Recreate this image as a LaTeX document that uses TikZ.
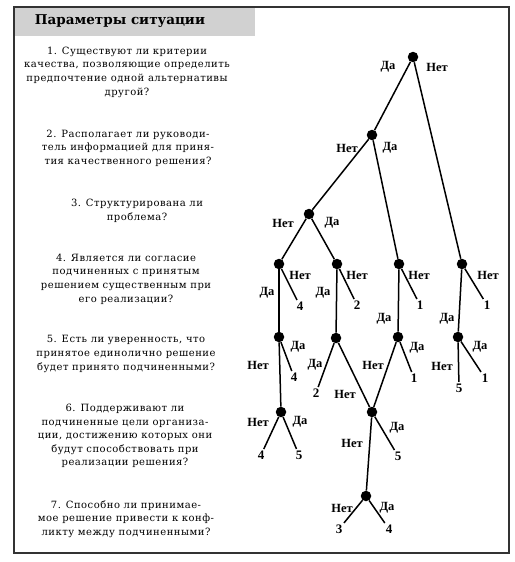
\documentclass[tikz,border=0pt]{standalone}
\usepackage{fontspec}
\setmainfont{DejaVu Serif}
\newfontfamily\labelfont{Liberation Serif}
\newfontfamily\askfont[LetterSpace=5]{DejaVu Serif}
\usetikzlibrary{positioning}
\tikzset{
    x=1pt,y=-1pt,
    decision/.style ={circle, fill, inner sep=0pt, minimum size=10.5pt},
    leaf/.style = {inner sep=1.5pt, font=\labelfont\bfseries\fontsize{13}{13}\selectfont},
    ans/.style = {inner sep=0pt, font=\labelfont\bfseries\fontsize{12.5}{13}\selectfont},
    question/.style = {align=center, inner sep=0pt, font=\askfont\fontsize{10}{13.6}\selectfont},
    branch/.style = {line width=1.5pt}
}

\begin{document}
\begin{tikzpicture}

    \useasboundingbox (0,0) rectangle (514,562);

    % frame and header
    \fill[black!18] (14,7) rectangle (255,36);
    \draw[line width=1.8pt, black!80] (14,7) rectangle (509,553);
    \node[font=\bfseries\fontsize{13.5}{13.5}\selectfont] (title) at (120,21) {Параметры ситуации};

    % questions
    \node[question] (q1) at (127,72) {1. Существуют ли критерии\\качества, позволяющие определить\\предпочтение одной альтернативы\\другой?};
    \node[question] (q2) at (128,148) {2. Располагает ли руководи-\\тель информацией для приня-\\тия качественного решения?};
    \node[question] (q3) at (137,211) {3. Структурирована ли\\проблема?};
    \node[question] (q4) at (126,279) {4. Является ли согласие\\подчиненных с принятым\\решением существенным при\\его реализации?};
    \node[question] (q5) at (126,354) {5. Есть ли уверенность, что\\принятое единолично решение\\будет принято подчиненными?};
    \node[question] (q6) at (125,436) {6. Поддерживают ли\\подчиненные цели организа-\\ции, достижению которых они\\будут способствовать при\\реализации решения?};
    \node[question] (q7) at (126,519) {7. Способно ли принимае-\\мое решение привести к конф-\\ликту между подчиненными?};

    % decision points
    \node[decision] (root) at (413,57) {};
    \node[decision] (a) at (372,135) {};
    \node[decision] (b) at (309,214) {};
    \node[decision] (c1) at (279,264) {};
    \node[decision] (c2) at (337,264) {};
    \node[decision] (c3) at (399,264) {};
    \node[decision] (c4) at (462,264) {};
    \node[decision] (d1) at (279,337) {};
    \node[decision] (d2) at (336,338) {};
    \node[decision] (d3) at (398,337) {};
    \node[decision] (d4) at (458,337) {};
    \node[decision] (e1) at (281,412) {};
    \node[decision] (e2) at (372,412) {};
    \node[decision] (f1) at (366,496) {};

    % outcomes
    \node[leaf] (o1) at (300,306) {4};
    \node[leaf] (o2) at (357,305) {2};
    \node[leaf] (o3) at (420,305) {1};
    \node[leaf] (o4) at (487,305) {1};
    \node[leaf] (o5) at (294,377) {4};
    \node[leaf] (o6) at (316,393) {2};
    \node[leaf] (o7) at (414,378) {1};
    \node[leaf] (o8) at (485,378) {1};
    \node[leaf] (o9) at (459,388) {5};
    \node[leaf] (o10) at (261,455) {4};
    \node[leaf] (o11) at (299,455) {5};
    \node[leaf] (o12) at (398,456) {5};
    \node[leaf] (o13) at (339,529) {3};
    \node[leaf] (o14) at (389,529) {4};

    % branches
    \draw[branch] (root) -- (a);
    \draw[branch] (root) -- (c4);
    \draw[branch] (a) -- (b);
    \draw[branch] (a) -- (c3);
    \draw[branch] (b) -- (c1);
    \draw[branch] (b) -- (c2);
    \draw[branch] (c1) -- (o1);
    \draw[branch] (c2) -- (o2);
    \draw[branch] (c3) -- (o3);
    \draw[branch] (c4) -- (o4);
    \draw[branch] (c1) -- (d1);
    \draw[branch] (c2) -- (d2);
    \draw[branch] (c3) -- (d3);
    \draw[branch] (c4) -- (d4);
    \draw[branch] (d1) -- (o5);
    \draw[branch] (d1) -- (e1);
    \draw[branch] (d2) -- (o6);
    \draw[branch] (d2) -- (e2);
    \draw[branch] (d3) -- (o7);
    \draw[branch] (d3) -- (e2);
    \draw[branch] (d4) -- (o8);
    \draw[branch] (d4) -- (o9);
    \draw[branch] (e1) -- (o10);
    \draw[branch] (e1) -- (o11);
    \draw[branch] (e2) -- (o12);
    \draw[branch] (e2) -- (f1);
    \draw[branch] (f1) -- (o13);
    \draw[branch] (f1) -- (o14);

    % answers
    \node[ans] (root-y) at (388,67) {Да};
    \node[ans] (root-n) at (437,67) {Нет};
    \node[ans] (a-n) at (347,148) {Нет};
    \node[ans] (a-y) at (390,148) {Да};
    \node[ans] (b-n) at (283,223) {Нет};
    \node[ans] (b-y) at (332,223) {Да};
    \node[ans] (c1-n) at (300,275) {Нет};
    \node[ans] (c1-y) at (267,293) {Да};
    \node[ans] (c2-n) at (357,275) {Нет};
    \node[ans] (c2-y) at (323,293) {Да};
    \node[ans] (c3-n) at (419,275) {Нет};
    \node[ans] (c3-y) at (384,319) {Да};
    \node[ans] (c4-n) at (488,275) {Нет};
    \node[ans] (c4-y) at (447,319) {Да};
    \node[ans] (d1-y) at (298,347) {Да};
    \node[ans] (d1-n) at (258,365) {Нет};
    \node[ans] (d2-y) at (315,365) {Да};
    \node[ans] (d2-n) at (345,394) {Нет};
    \node[ans] (d3-y) at (417,348) {Да};
    \node[ans] (d3-n) at (373,365) {Нет};
    \node[ans] (d4-y) at (480,347) {Да};
    \node[ans] (d4-n) at (442,366) {Нет};
    \node[ans] (e1-n) at (258,422) {Нет};
    \node[ans] (e1-y) at (300,422) {Да};
    \node[ans] (e2-y) at (397,428) {Да};
    \node[ans] (e2-n) at (352,443) {Нет};
    \node[ans] (f1-n) at (342,508) {Нет};
    \node[ans] (f1-y) at (387,508) {Да};

\end{tikzpicture}
\end{document}
